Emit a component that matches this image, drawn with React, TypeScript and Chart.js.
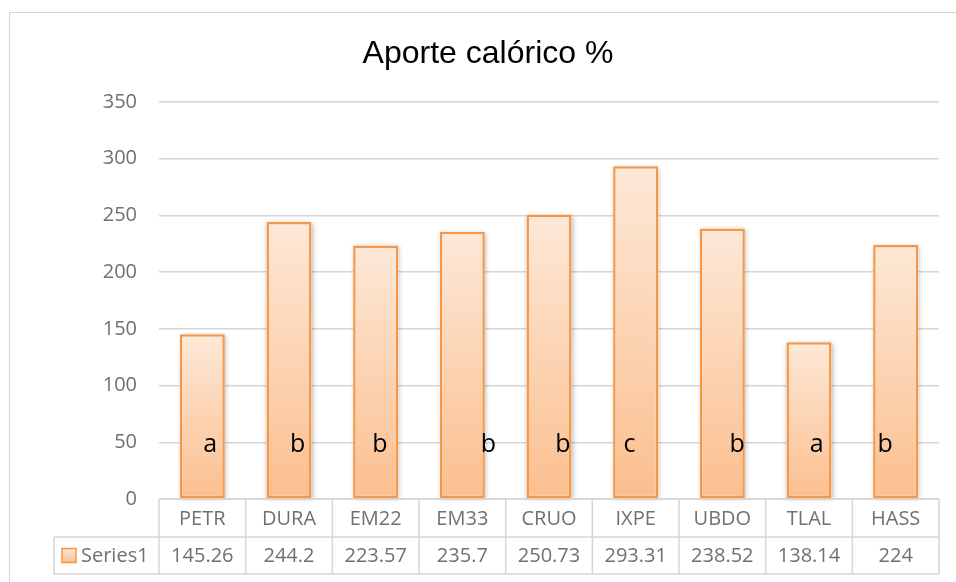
import React, { useEffect, useRef } from "react";
import { Chart, registerables } from "chart.js";

Chart.register(...registerables);

// ---------- data ----------
const TITLE = "Aporte calórico %";
const SERIES_NAME = "Series1";
const categories = ["PETR", "DURA", "EM22", "EM33", "CRUO", "IXPE", "UBDO", "TLAL", "HASS"];
const values = [145.26, 244.2, 223.57, 235.7, 250.73, 293.31, 238.52, 138.14, 224];
const valueLabels = ["145.26", "244.2", "223.57", "235.7", "250.73", "293.31", "238.52", "138.14", "224"];
const groupLetters = ["a", "b", "b", "b", "b", "c", "b", "a", "b"];
const yTicks = [0, 50, 100, 150, 200, 250, 300, 350];

// ---------- layout / style ----------
const LETTER_VALUE = 41.5; // baseline of the significance letters, in data units
const letterOffsets = [0.09, 0.1, 0.05, 0.3, 0.16, -0.07, 0.17, 0.09, -0.12]; // in category units
const GRID = "#d6d6d6";
const TEXT_GRAY = "#707070";
const ORANGE = "#f79646";
const GRAD_TOP = "#fde8d7";
const GRAD_BOTTOM = "#fbbf8f";
const FONT_UI = "'Open Sans', 'DejaVu Sans', sans-serif";

const decorPlugin = {
  id: "decor",
  beforeDraw(chart: any) {
    const c = chart.ctx;
    c.save();
    c.fillStyle = "#ffffff";
    c.fillRect(0, 0, chart.width, chart.height);
    c.strokeStyle = GRID;
    c.lineWidth = 1;
    c.strokeRect(9.5, 12.5, chart.width + 10, chart.height + 10);
    c.fillStyle = "#000000";
    c.font = "32px 'Liberation Sans', Arial, sans-serif";
    c.textAlign = "center";
    c.textBaseline = "alphabetic";
    c.fillText(TITLE, 488, 63);
    c.restore();
  },
  beforeDatasetsDraw(chart: any) {
    const c = chart.ctx;
    const meta = chart.getDatasetMeta(0);
    c.save();
    c.shadowColor = "rgba(0,0,0,0.28)";
    c.shadowBlur = 5;
    c.shadowOffsetX = 1;
    c.shadowOffsetY = 1;
    c.fillStyle = "#ffffff";
    meta.data.forEach((el: any) => {
      const { x, y, base, width } = el.getProps(["x", "y", "base", "width"], true);
      c.fillRect(x - width / 2, y, width, base - y);
    });
    c.restore();
  },
  afterDatasetsDraw(chart: any) {
    const c = chart.ctx;
    const xs = chart.scales.x;
    const ys = chart.scales.y;
    c.save();
    c.fillStyle = "#000000";
    c.font = `25px ${FONT_UI}`;
    c.textAlign = "center";
    c.textBaseline = "alphabetic";
    groupLetters.forEach((l, i) => {
      c.fillText(l, xs.getPixelForValue(i + letterOffsets[i]), ys.getPixelForValue(LETTER_VALUE));
    });
    c.restore();
  },
  afterDraw(chart: any) {
    const c = chart.ctx;
    const xs = chart.scales.x;
    const n = categories.length;
    const step = xs.getPixelForValue(1) - xs.getPixelForValue(0);
    const left = xs.getPixelForValue(0) - step / 2;
    const right = xs.getPixelForValue(n - 1) + step / 2;
    const top = chart.chartArea.bottom;
    const row1 = top + 38;
    const row2 = row1 + 37;
    const legLeft = 54;
    c.save();
    c.strokeStyle = GRID;
    c.lineWidth = 1.5;
    c.beginPath();
    c.moveTo(left, top); c.lineTo(right, top);
    c.moveTo(legLeft, row1); c.lineTo(right, row1);
    c.moveTo(legLeft, row2); c.lineTo(right, row2);
    for (let i = 0; i <= n; i++) {
      const x = left + i * step;
      c.moveTo(x, top); c.lineTo(x, row2);
    }
    c.moveTo(legLeft, row1); c.lineTo(legLeft, row2);
    c.stroke();

    c.fillStyle = TEXT_GRAY;
    c.font = `20px ${FONT_UI}`;
    c.textAlign = "center";
    c.textBaseline = "middle";
    categories.forEach((cat, i) => {
      const x = xs.getPixelForValue(i);
      c.fillText(cat, x, (top + row1) / 2 + 1);
      c.fillText(valueLabels[i], x, (row1 + row2) / 2 + 1);
    });

    const ky = (row1 + row2) / 2;
    const g = c.createLinearGradient(0, ky - 7, 0, ky + 7);
    g.addColorStop(0, GRAD_TOP);
    g.addColorStop(1, GRAD_BOTTOM);
    c.fillStyle = g;
    c.fillRect(62, ky - 7, 14, 14);
    c.strokeStyle = ORANGE;
    c.lineWidth = 1.5;
    c.strokeRect(62, ky - 7, 14, 14);
    c.fillStyle = TEXT_GRAY;
    c.textAlign = "left";
    c.fillText(SERIES_NAME, 81, ky + 1);
    c.restore();
  },
};

export default function App() {
  const ref = useRef<HTMLCanvasElement | null>(null);
  useEffect(() => {
    if (!ref.current) return;
    const chart = new Chart(ref.current, {
      type: "bar",
      data: {
        labels: categories,
        datasets: [
          {
            label: SERIES_NAME,
            data: values,
            backgroundColor: (ctx: any) => {
              const chart = ctx.chart;
              const ys = chart.scales && chart.scales.y;
              if (!ys || ctx.type !== "data") return GRAD_BOTTOM;
              const t = ys.getPixelForValue(ctx.raw);
              const b = ys.getPixelForValue(0);
              if (!isFinite(t) || !isFinite(b) || t === b) return GRAD_BOTTOM;
              const g = chart.ctx.createLinearGradient(0, t, 0, b);
              g.addColorStop(0, GRAD_TOP);
              g.addColorStop(1, GRAD_BOTTOM);
              return g;
            },
            borderColor: ORANGE,
            borderWidth: 2.5,
            borderSkipped: false,
            barPercentage: 0.52,
            categoryPercentage: 1,
          },
        ],
      },
      options: {
        responsive: false,
        animation: false,
        devicePixelRatio: 1,
        layout: { padding: { left: 9, right: 17, top: 102, bottom: 83 } },
        plugins: {
          legend: { display: false },
          title: { display: false },
          tooltip: { enabled: false },
        },
        scales: {
          x: { display: false, offset: true },
          y: {
            min: 0,
            max: 350,
            afterBuildTicks: (s: any) => {
              s.ticks = yTicks.map((v) => ({ value: v }));
            },
            afterFit: (s: any) => {
              s.width = 150;
            },
            ticks: {
              padding: 22,
              color: TEXT_GRAY,
              font: { family: FONT_UI, size: 20 },
            },
            grid: { color: GRID, lineWidth: 1.5, drawTicks: false },
            border: { display: false },
          },
        },
      },
      plugins: [decorPlugin],
    });
    return () => chart.destroy();
  }, []);
  return (
    <div style={{ position: "absolute", left: 0, top: 0, width: 956, height: 582 }}>
      <canvas ref={ref} width={956} height={582} />
    </div>
  );
}
